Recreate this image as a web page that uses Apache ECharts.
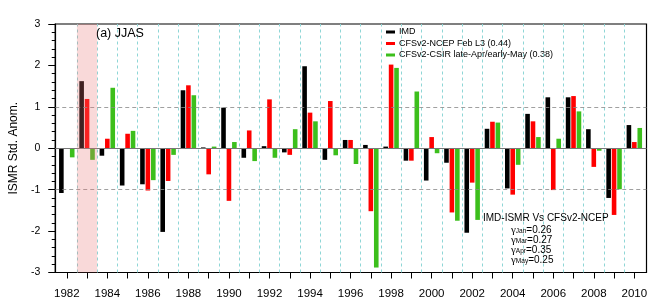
<!DOCTYPE html>
<html>
<head>
<meta charset="utf-8">
<script src="https://cdn.jsdelivr.net/npm/echarts@6/dist/echarts.min.js"></script>
<style>
html,body{margin:0;padding:0;background:#fff;}
#c{width:655px;height:306px;}
</style>
</head>
<body>
<div id="c"></div>
<script>
var years = [1982,1983,1984,1985,1986,1987,1988,1989,1990,1991,1992,1993,1994,1995,1996,1997,1998,1999,2000,2001,2002,2003,2004,2005,2006,2007,2008,2009,2010];
var imd  = [-1.08, 1.62,-0.18,-0.90,-0.87,-2.02, 1.40, 0.02, 0.98,-0.23, 0.05,-0.10, 1.98,-0.28, 0.20, 0.08, 0.04,-0.30,-0.78,-0.35,-2.04, 0.47,-0.97, 0.83, 1.23, 1.23, 0.46,-1.20, 0.56];
var ncep = [ 0.00, 1.19, 0.23, 0.35,-1.02,-0.79, 1.52,-0.63,-1.27, 0.43, 1.18,-0.16, 0.86, 1.14, 0.20,-1.52, 2.02,-0.30, 0.27,-1.55,-0.83, 0.64,-1.12, 0.65,-1.01, 1.26,-0.45,-1.61, 0.15];
var csir = [-0.22,-0.28, 1.46, 0.42,-0.77,-0.16, 1.28, 0.04, 0.15,-0.31,-0.23, 0.46, 0.65,-0.17,-0.38,-2.88, 1.94, 1.37,-0.12,-1.75,-1.73, 0.62,-0.40, 0.27, 0.23, 0.89,-0.06,-0.99, 0.49];
var seriesNames = ['IMD', 'CFSv2-NCEP Feb L3 (0.44)', 'CFSv2-CSIR late-Apr/early-May (0.38)'];
var yTicks = [-3,-2,-1,0,1,2,3];
var labelYears = years.filter(function(y){return y % 2 === 0;});
var shadedYear = 1983;
var dashedLevels = [-1, 1];
var corrMonths = ['Jan','Mar','Apr','May'];
var corrValues = ['0.26','0.27','0.35','0.25'];

var halfYears = years.slice(0, -1).map(function(y){return y + 0.5;});
function pairs(vals){ return years.map(function(y,i){return [y, vals[i]];}); }

var gammaText = corrMonths.map(function(m,i){
  return '{g|γ}{s|' + m + '}{t|=' + corrValues[i] + '}';
}).join('\n');

var chart = echarts.init(document.getElementById('c'), null, {renderer:'canvas'});
var font = 'Liberation Sans, Arial, sans-serif';
chart.setOption({
  animation: false,
  backgroundColor: '#fff',
  textStyle: {fontFamily: font},
  grid: {left: 50, right: 8.5, top: 24, bottom: 33.5, show: true, borderColor: '#000', borderWidth: 1.2, containLabel: false},
  title: [
    {text: '(a) JJAS', left: 96, top: 27, padding: 0, textStyle: {fontSize: 12.5, fontWeight: 'normal', color: '#000', fontFamily: font}},
    {text: 'IMD-ISMR Vs CFSv2-NCEP', left: 483, top: 213, padding: 0, textStyle: {fontSize: 10, fontWeight: 'normal', color: '#000', fontFamily: font}},
    {text: gammaText, left: 511, top: 225, padding: 0, textStyle: {
      fontSize: 10, fontWeight: 'normal', color: '#000', lineHeight: 10,
      rich: {
        g: {fontFamily: 'Liberation Serif, DejaVu Serif, serif', fontSize: 11, lineHeight: 10, color: '#000'},
        s: {fontSize: 6.5, lineHeight: 10, verticalAlign: 'bottom', padding: [3,0,0,0], color: '#000', fontFamily: font},
        t: {fontSize: 10, lineHeight: 10, color: '#000', fontFamily: font}
      }
    }}
  ],
  legend: {
    data: seriesNames, orient: 'vertical', left: 386, top: 27, padding: 0,
    itemWidth: 9, itemHeight: 3, itemGap: 1.5, icon: 'rect',
    textStyle: {fontSize: 9, color: '#000', lineHeight: 10, padding: [0,0,0,-1], fontFamily: font}
  },
  xAxis: {
    type: 'value', min: 1981.43, max: 2010.6,
    axisLine: {show: true, onZero: false, lineStyle: {color: '#000', width: 1.2}},
    axisTick: {show: true, length: 6, customValues: years, lineStyle: {color: '#000'}},
    axisLabel: {customValues: labelYears, margin: 15, fontSize: 11.5, color: '#000', fontFamily: font, formatter: function(v){return String(v);}},
    splitLine: {show: false}
  },
  yAxis: {
    type: 'value', min: -3, max: 3, interval: 1,
    name: 'ISMR Std. Anom.', nameLocation: 'middle', nameGap: 31, nameRotate: 90,
    nameTextStyle: {fontSize: 12, color: '#000', fontFamily: font},
    axisLine: {show: true, lineStyle: {color: '#000', width: 1.2}},
    axisTick: {show: true, length: 7, lineStyle: {color: '#000'}},
    minorTick: {show: true, splitNumber: 5, length: 3.5, lineStyle: {color: '#000'}},
    axisLabel: {margin: 15, fontSize: 10.5, color: '#000', fontFamily: font},
    splitLine: {show: false}
  },
  series: [
    {name: 'guides', type: 'line', data: [], z: 1, silent: true,
     markLine: {silent: true, symbol: ['none','none'], label: {show: false}, animation: false,
       data: halfYears.map(function(x){return {xAxis: x, lineStyle: {color: '#8ed6d6', type: [3,3], width: 1}};})
         .concat(dashedLevels.map(function(v){return {yAxis: v, lineStyle: {color: '#888', type: [4,3], width: 0.8}};}))
     }},
    {name: seriesNames[0], type: 'bar', data: pairs(imd), barWidth: 4.6, barGap: '18%', itemStyle: {color: '#000'}, z: 2},
    {name: seriesNames[1], type: 'bar', data: pairs(ncep), barWidth: 4.6, barGap: '18%', itemStyle: {color: '#ff0000'}, z: 2},
    {name: seriesNames[2], type: 'bar', data: pairs(csir), barWidth: 4.6, barGap: '18%', itemStyle: {color: '#3cbf1c'}, z: 2},
    {name: 'overlay', type: 'line', data: [], z: 5, silent: true,
     markLine: {silent: true, z: 6, symbol: ['none','none'], label: {show: false}, animation: false,
       data: [{yAxis: 0, lineStyle: {color: '#777', type: 'solid', width: 1}}]},
     markArea: {silent: true, z: 10, itemStyle: {color: 'rgba(232,120,120,0.28)'},
       data: [[{xAxis: shadedYear - 0.5}, {xAxis: shadedYear + 0.5}]]}}
  ]
});
</script>
</body>
</html>
